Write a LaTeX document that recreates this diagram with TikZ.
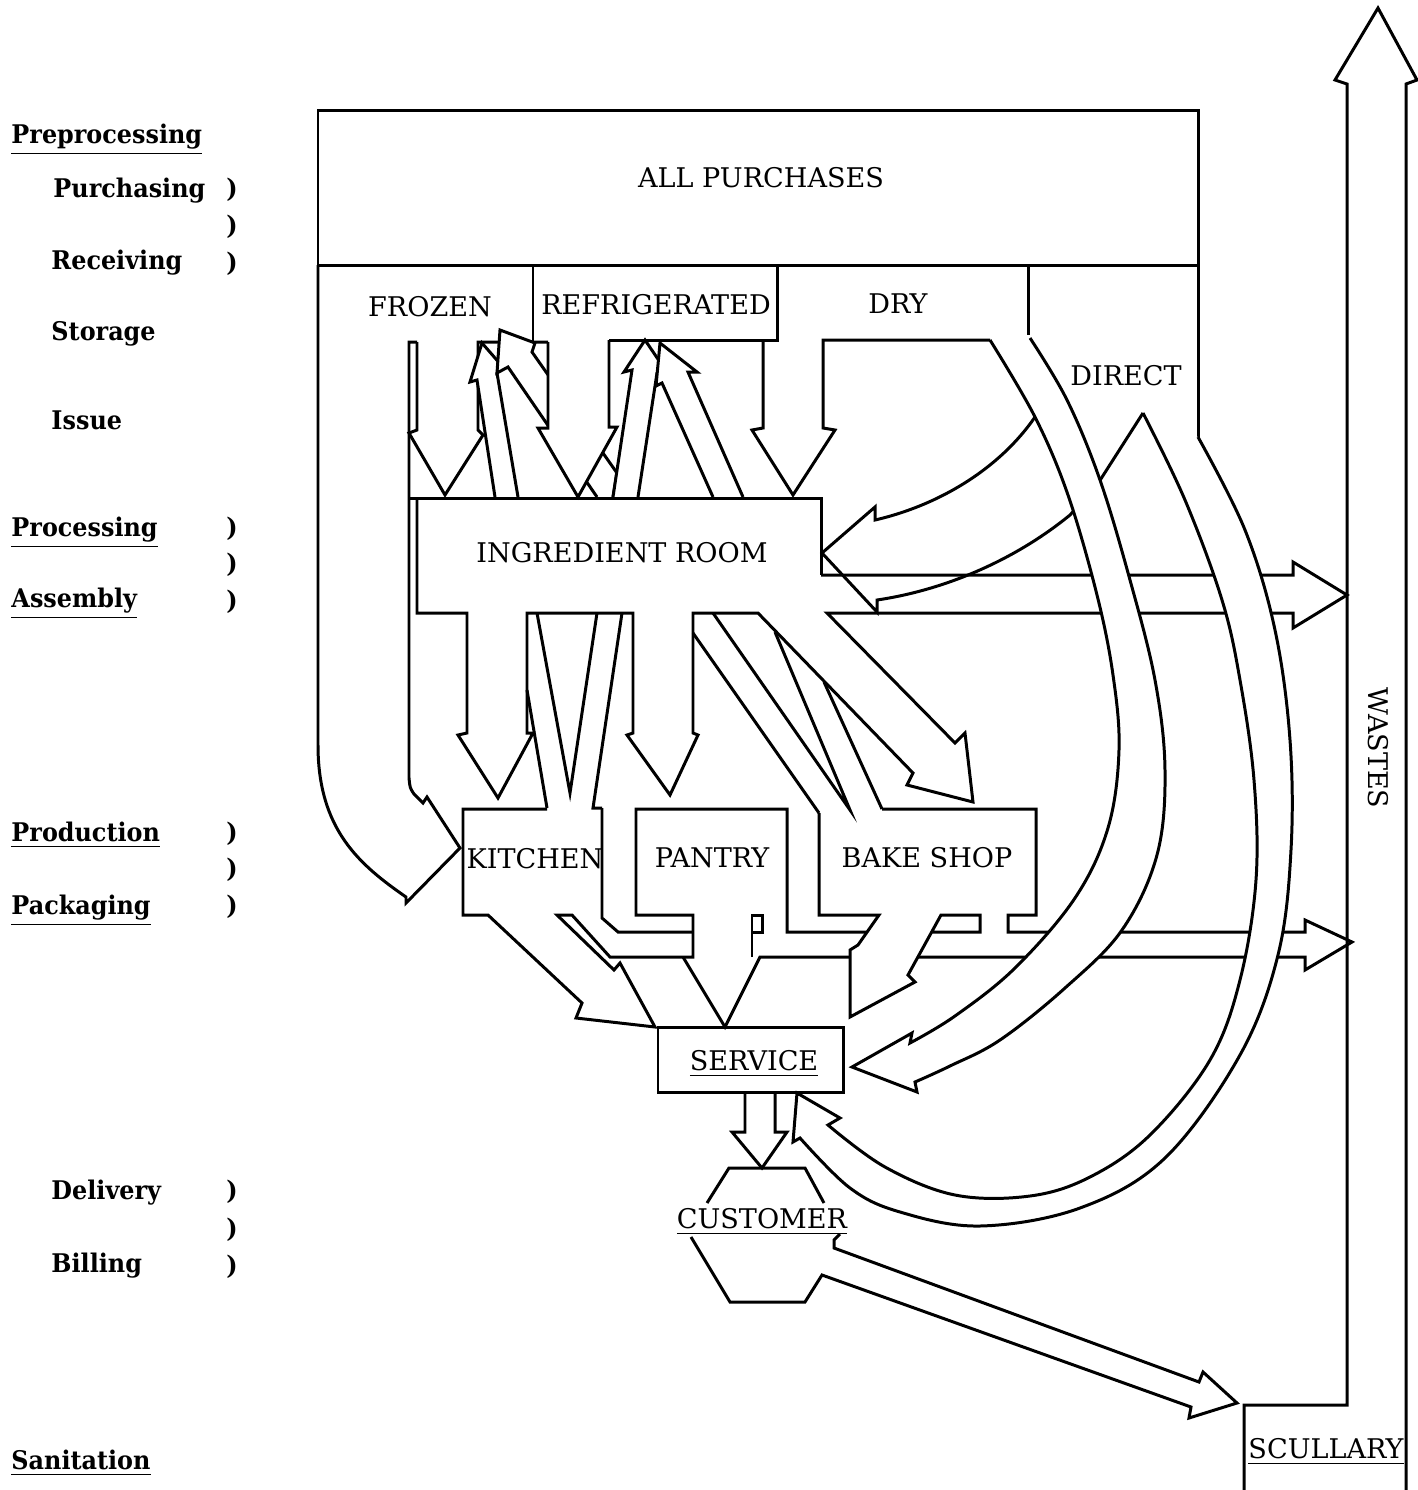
\documentclass[tikz,border=0pt]{standalone}
\usepackage{fontspec}
\setmainfont{DejaVu Serif}
\newfontfamily\sidefont[FakeStretch=0.93]{DejaVu Serif}

\begin{document}
\begin{tikzpicture}[
    x=0.01cm, y=-0.01cm,
    line width=0.85pt,
    every node/.style={font=\fontsize{7.7}{9}\selectfont, inner sep=0pt},
    caption/.style={anchor=base},
    sidelbl/.style={anchor=base west, font=\sidefont\fontsize{7.3}{9}\selectfont\bfseries},
    paren/.style={anchor=base, font=\sidefont\fontsize{7.3}{9}\selectfont\bfseries},
    band/.style={draw, fill=white}
]
  \useasboundingbox (0,0) rectangle (1418,1490);

  % stages down the left side
  \node[sidelbl] (prep)  at (10,143)  {\underline{Preprocessing}};
  \node[sidelbl] (purch) at (52,197)  {Purchasing};
  \node[sidelbl] (recv)  at (50,269)  {Receiving};
  \node[sidelbl] (stor)  at (50,340)  {Storage};
  \node[sidelbl] (issue) at (50,429)  {Issue};
  \node[sidelbl] (proc)  at (10,536)  {\underline{Processing}};
  \node[sidelbl] (assem) at (10,607)  {\underline{Assembly}};
  \node[sidelbl] (prod)  at (10,841)  {\underline{Production}};
  \node[sidelbl] (pack)  at (10,914)  {\underline{Packaging}};
  \node[sidelbl] (deliv) at (50,1199) {Delivery};
  \node[sidelbl] (bill)  at (50,1272) {Billing};
  \node[sidelbl] (sanit) at (10,1469) {\underline{Sanitation}};
  \foreach \py in {197,234,271,536,572,609,841,877,914,1199,1237,1274}
    \node[paren] (par\py) at (232,\py) {)};

  % purchases and storage
  \draw (318,110) rectangle (1198,265);
  \node[caption] (allp) at (761,187) {ALL PURCHASES};
  \node[caption] (frozen) at (430,316) {FROZEN};
  \node[caption] (refrig) at (656,314) {REFRIGERATED};
  \node[caption] (dry) at (898,313) {DRY};
  \node[caption] (direct) at (1126,385) {DIRECT};
  \draw (533,265) -- (533,342);
  \draw (609,340) -- (777,340) -- (777,265);
  \draw (1028,265) -- (1028,335);
  \draw (1198,265) -- (1198,437);

  % direct to kitchen, down the left
  \draw (318,265) -- (318,745) .. controls (318,830) and (360,865) .. (406,897)
    -- (406,903) -- (460,848) -- (427,797) -- (423,803) -- (414,794)
    .. controls (410,788) .. (409,778) -- (409,342) -- (417,342);

  % storage <-> ingredient room
  \draw (417,342) -- (417,430) -- (409,433) -- (445,495) -- (483,435) -- (478,430) -- (478,342) -- (548,342);
  \filldraw[fill=white] (495,497) -- (477,380) -- (470,382) -- (482,343) -- (502,366) -- (497,373) -- (518,497);
  \filldraw[fill=white] (597,497) -- (508,367) -- (497,373) -- (500,330) -- (535,343) -- (532,352) -- (617,473) -- (613,497);
  \filldraw[fill=white] (548,342) -- (548,428) -- (538,428) -- (578,497) -- (617,427) -- (609,427) -- (609,340);
  \filldraw[fill=white] (613,497) -- (632,370) -- (624,372) -- (645,340) -- (664,368) -- (657,373) -- (638,497);
  \filldraw[fill=white] (713,497) -- (662,383) -- (656,386) -- (660,343) -- (697,372) -- (688,372) -- (743,497);
  \draw (763,340) -- (763,428) -- (752,430) -- (793,495) -- (835,430) -- (823,428) -- (823,340) -- (990,340);

  % ingredient room and its outlets
  \node[caption] (ingr) at (622,562) {INGREDIENT ROOM};
  \draw (409,498) -- (821,498) -- (821,575);
  \draw (417,498) -- (417,613) -- (467,613) -- (467,733) -- (458,735) -- (498,798) -- (533,733) -- (527,733)
    -- (527,613) -- (633,613) -- (633,733) -- (627,735) -- (670,795) -- (698,735) -- (693,733)
    -- (693,613) -- (758,613) -- (913,773) -- (907,785) -- (973,802) -- (965,733) -- (955,743)
    -- (827,613) -- (1293,613) -- (1293,628) -- (1347,595) -- (1293,562) -- (1293,575) -- (821,575);
  \draw (527,690) -- (547,808);
  \draw (537,613) -- (570,793) -- (597,613);
  \draw (622,613) -- (593,808) -- (602,808);
  \draw (693,633) -- (819,813);
  \draw (713,613) -- (850,810) -- (775,632);
  \draw (824,682) -- (882,809);

  % kitchen, pantry, bake shop
  \node[caption] (kitchen) at (535,868) {KITCHEN};
  \node[caption] (pantry) at (712,867) {PANTRY};
  \node[caption] (bakeshop) at (927,867) {BAKE SHOP};
  \draw (547,809) -- (463,809) -- (463,915) -- (488,915) -- (582,1003) -- (576,1018) -- (655,1027)
    -- (620,963) -- (614,970) -- (557,915) -- (572,915) -- (610,957) -- (693,957) -- (693,915) -- (636,915)
    -- (636,809) -- (787,809) -- (787,932) -- (867,932);
  \draw (602,808) -- (602,918) -- (618,932) -- (693,932);
  \draw (683,957) -- (725,1027) -- (760,957) -- (850,957);
  \draw (752,957) -- (752,915) -- (762,915) -- (762,932) -- (752,932);
  \draw (819,813) -- (819,915) -- (879,915) -- (858,945) -- (850,950) -- (850,1017) -- (915,982)
    -- (908,975) -- (941,915) -- (980,915) -- (980,932) -- (932,932);
  \draw (882,809) -- (1036,809) -- (1036,915) -- (1008,915) -- (1008,932) -- (1305,932) -- (1305,920)
    -- (1352,942) -- (1305,970) -- (1305,957) -- (918,957);

  % direct into ingredient room
  \draw (1052,390) -- (1035,417) .. controls (1000,468) and (940,505) .. (875,520) -- (875,507)
    -- (822,553) -- (877,612) -- (877,600) .. controls (945,590) and (1015,560) .. (1070,515)
    -- (1097,485) -- (1143,413);

  % dry and direct round to service
  \path[band] plot[smooth, tension=0.6] coordinates {(1030,338) (1067,400) (1100,480) (1130,580)
      (1155,680) (1165,770) (1157,855) (1122,930) (1065,988) (1000,1040) (950,1066) (915,1082)}
    -- (917,1092) -- (852,1067) -- (912,1033)
    -- plot[smooth, tension=0.6] coordinates {(910,1043) (955,1016) (1015,968) (1075,898)
      (1108,828) (1119,750) (1113,675) (1097,595) (1068,495) (1035,417) (990,340)};
  \path[band] plot[smooth, tension=0.6] coordinates {(1198,437) (1245,530) (1275,630) (1290,740)
      (1291,850) (1278,955) (1240,1055) (1165,1158) (1080,1208) (980,1226) (900,1212) (850,1188) (800,1138)}
    -- (793,1142) -- (797,1093) -- (840,1118)
    -- plot[smooth, tension=0.6] coordinates {(828,1125) (885,1167) (955,1195) (1030,1196) (1090,1177)
      (1150,1135) (1210,1060) (1240,980) (1256,880) (1254,780) (1240,680) (1222,600) (1185,500) (1143,413)};

  % service and customer
  \draw (658,1027) rectangle (843,1092);
  \node[caption] (service) at (754,1070) {\underline{SERVICE}};
  \draw (745,1092) -- (745,1132) -- (732,1132) -- (762,1168) -- (787,1132) -- (775,1132) -- (775,1092);
  \draw (707,1203) -- (729,1168) -- (805,1168) -- (824,1203);
  \node[caption] (customer) at (762,1228) {\underline{CUSTOMER}};
  \draw (691,1237) -- (730,1302) -- (805,1302) -- (822,1275) -- (1191,1407) -- (1189,1418) -- (1237,1403)
    -- (1203,1372) -- (1199,1382) -- (834,1248) -- (834,1240) -- (840,1234);

  % scullary and wastes
  \draw (1244,1490) -- (1244,1405) -- (1347,1405) -- (1347,84) -- (1335,80) -- (1378,8) -- (1417,80)
    -- (1406,84) -- (1406,1490);
  \node[caption] (scullary) at (1326,1458) {\underline{SCULLARY}};
  \node[rotate=-90] (wastes) at (1378,748) {WASTES};
\end{tikzpicture}
\end{document}
